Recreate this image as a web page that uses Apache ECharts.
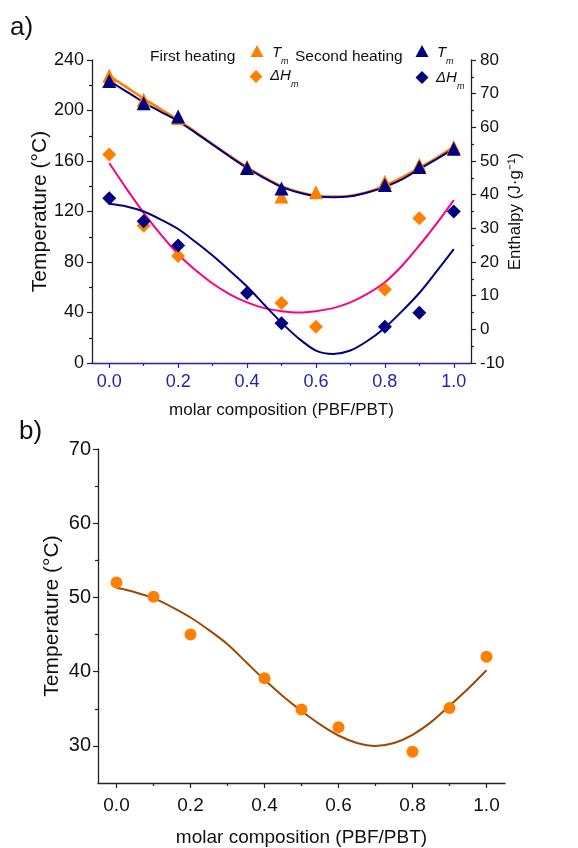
<!DOCTYPE html>
<html><head><meta charset="utf-8">
<script src="https://cdn.jsdelivr.net/npm/echarts@6/dist/echarts.min.js"></script>
<style>html,body{margin:0;padding:0;background:#fff}#c{width:578px;height:848px}</style>
</head><body><div id="c"></div>
<script>
// ---------- data (top chart) ----------
const firstTmX = [0, 0.1, 0.2, 0.4, 0.5, 0.6, 0.8, 0.9, 1.0];
const firstTmY = [227.5, 208.5, 194, 155.5, 131.8, 135.2, 143.5, 157, 171];
const secondTmX = [0, 0.1, 0.2, 0.4, 0.5, 0.8, 0.9, 1.0];
const secondTmY = [223.4, 205.8, 195.3, 154.5, 138.3, 140.9, 155.3, 169.7];
const firstDHX = [0, 0.1, 0.2, 0.5, 0.6, 0.8, 0.9];
const firstDHY = [51.9, 30.8, 21.8, 7.8, 0.8, 11.8, 33.0];
const secondDHX = [0, 0.1, 0.2, 0.4, 0.5, 0.8, 0.9, 1.0];
const secondDHY = [38.9, 32.1, 24.9, 10.8, 1.8, 0.8, 4.9, 35.0];
// fitted curves, every 0.05
const fitX = [0, 0.05, 0.1, 0.15, 0.2, 0.25, 0.3, 0.35, 0.4, 0.45, 0.5, 0.55, 0.6, 0.65, 0.7, 0.75, 0.8, 0.85, 0.9, 0.95, 1.0];
const firstTmFit = [227.5, 218.5, 209.5, 201, 192.5, 183, 173.5, 164, 155, 147, 140, 135.5, 132.5, 131.8, 132.5, 135.5, 140.5, 147, 154.5, 162.5, 171.5];
const secondTmFit = [223.5, 215, 206.5, 199, 191.5, 182.5, 173, 163.5, 154.5, 146.5, 139.5, 135, 132, 131.2, 132, 135, 139.5, 145.5, 153.5, 161.5, 169.7];
const firstDHFit = [49.4, 41.8, 34.6, 28.1, 22.3, 17.6, 13.6, 10.4, 8.0, 6.3, 5.4, 5.0, 5.4, 6.3, 8.0, 10.6, 14.0, 18.9, 24.9, 31.4, 38.4];
const secondDHFit = [37.3, 36.5, 35.0, 32.6, 29.8, 26.0, 21.9, 17.4, 12.7, 7.3, 2.0, -2.7, -6.3, -7.3, -6.3, -3.4, 0.5, 5.4, 10.8, 17.2, 23.8];
// ---------- data (bottom chart) ----------
const botX = [0, 0.1, 0.2, 0.4, 0.5, 0.6, 0.8, 0.9, 1.0];
const botY = [52.0, 50.1, 45.0, 39.1, 34.9, 32.5, 29.2, 35.1, 42.0];
const botFit = [51.3, 50.7, 49.9, 48.7, 47.3, 45.6, 43.7, 41.3, 38.9, 36.7, 34.7, 32.9, 31.4, 30.4, 30.0, 30.4, 31.5, 33.2, 35.4, 37.7, 40.2];
// ---------- tick labels ----------
const xMajor = [0, 0.2, 0.4, 0.6, 0.8, 1.0];
const xMinor = [0.1, 0.3, 0.5, 0.7, 0.9];
const botYMajor = [30, 40, 50, 60, 70];
const botYMinor = [35, 45, 55, 65];

const FONT = "'Liberation Sans', Arial, sans-serif";
const ORANGE = '#FF8000', NAVY = '#000080', PINK = '#FF0080', BROWN = '#A04800', BLUE = '#2323B0';
const pairs = (xs, ys) => xs.map((x, i) => [x, ys[i]]);

function xMain(grid, color, fs, nfs, margin, gap) {
  return {
    gridIndex: grid, type: 'value', min: -0.05, max: 1.05,
    axisLine: {show: true, onZero: false, lineStyle: {color: color, width: 1.3}},
    axisTick: {show: true, customValues: xMajor, length: 5, lineStyle: {color: color, width: 1.2}},
    axisLabel: {show: true, customValues: xMajor, formatter: v => Number(v).toFixed(1),
      color: color === BLUE ? BLUE : '#111', fontSize: fs, fontFamily: FONT, margin: margin},
    splitLine: {show: false},
    name: 'molar composition (PBF/PBT)', nameLocation: 'middle', nameGap: gap, nameMoveOverlap: false,
    nameTextStyle: {fontSize: nfs, fontFamily: FONT, color: '#111'}
  };
}
function xMinorAxis(grid, color) {
  return {
    gridIndex: grid, type: 'value', min: -0.05, max: 1.05, position: 'bottom',
    axisLine: {show: false, onZero: false}, axisLabel: {show: false}, splitLine: {show: false},
    axisTick: {show: true, customValues: xMinor, length: 3, lineStyle: {color: color, width: 1.2}}
  };
}
const yCommon = {
  type: 'value', splitLine: {show: false}, nameMoveOverlap: false,
  axisLine: {show: true, onZero: false, lineStyle: {color: '#222', width: 1.3}},
  axisTick: {show: true, length: 5, lineStyle: {color: '#222', width: 1.2}},
  minorTick: {show: true, splitNumber: 2, length: 3, lineStyle: {color: '#222', width: 1.2}},
  minorSplitLine: {show: false}
};
const mark = (color) => ({color: color, opacity: 1});

const option = {
  animation: false,
  backgroundColor: '#fff',
  grid: [
    {left: 92, right: 107, top: 60, bottom: 485},
    {left: 98, right: 73, top: 449, bottom: 65}
  ],
  xAxis: [
    xMain(0, BLUE, 18, 17, 10, 39),
    xMinorAxis(0, BLUE),
    xMain(1, '#222', 19, 19, 13, 45),
    xMinorAxis(1, '#222')
  ],
  yAxis: [
    Object.assign({}, yCommon, {gridIndex: 0, position: 'left', min: 0, max: 240, interval: 40,
      axisLabel: {color: '#111', fontSize: 18, fontFamily: FONT, margin: 8},
      name: 'Temperature (°C)', nameLocation: 'middle', nameGap: 41, nameRotate: 90,
      nameTextStyle: {fontSize: 21, fontFamily: FONT, color: '#111'}}),
    Object.assign({}, yCommon, {gridIndex: 0, position: 'right', min: -10, max: 80, interval: 10,
      axisLabel: {color: '#111', fontSize: 17, fontFamily: FONT, margin: 9},
      name: 'Enthalpy (J·g⁻¹)', nameLocation: 'middle', nameGap: 36, nameRotate: 90,
      nameTextStyle: {fontSize: 17, fontFamily: FONT, color: '#111'}}),
    Object.assign({}, yCommon, {gridIndex: 1, position: 'left', min: 25, max: 70,
      minorTick: {show: false},
      axisTick: {show: true, customValues: botYMajor, length: 5, lineStyle: {color: '#222', width: 1.2}},
      axisLabel: {customValues: botYMajor, color: '#111', fontSize: 20, fontFamily: FONT, margin: 7},
      name: 'Temperature (°C)', nameLocation: 'middle', nameGap: 35, nameRotate: 90,
      nameTextStyle: {fontSize: 21, fontFamily: FONT, color: '#111'}}),
    {gridIndex: 1, type: 'value', min: 25, max: 70, position: 'left',
      axisLine: {show: false, onZero: false}, axisLabel: {show: false}, splitLine: {show: false},
      axisTick: {show: true, customValues: botYMinor, length: 3, lineStyle: {color: '#222', width: 1.2}}}
  ],
  series: [
    {type: 'line', xAxisIndex: 0, yAxisIndex: 0, data: pairs(fitX, firstTmFit), smooth: 0.3,
      showSymbol: false, lineStyle: {color: ORANGE, width: 2.6}, z: 2},
    {type: 'line', xAxisIndex: 0, yAxisIndex: 0, data: pairs(fitX, secondTmFit), smooth: 0.3,
      showSymbol: false, lineStyle: {color: NAVY, width: 2}, z: 3},
    {type: 'line', xAxisIndex: 0, yAxisIndex: 1, data: pairs(fitX, firstDHFit), smooth: 0.3,
      showSymbol: false, lineStyle: {color: PINK, width: 2}, z: 3},
    {type: 'line', xAxisIndex: 0, yAxisIndex: 1, data: pairs(fitX, secondDHFit), smooth: 0.3,
      showSymbol: false, lineStyle: {color: NAVY, width: 2}, z: 3},
    {type: 'scatter', xAxisIndex: 0, yAxisIndex: 0, data: pairs(firstTmX, firstTmY),
      symbol: 'triangle', symbolSize: 14, itemStyle: mark(ORANGE), z: 5},
    {type: 'scatter', xAxisIndex: 0, yAxisIndex: 0, data: pairs(secondTmX, secondTmY),
      symbol: 'triangle', symbolSize: 14, itemStyle: mark(NAVY), z: 6},
    {type: 'scatter', xAxisIndex: 0, yAxisIndex: 1, data: pairs(firstDHX, firstDHY),
      symbol: 'diamond', symbolSize: 14, itemStyle: mark(ORANGE), z: 5},
    {type: 'scatter', xAxisIndex: 0, yAxisIndex: 1, data: pairs(secondDHX, secondDHY),
      symbol: 'diamond', symbolSize: 14, itemStyle: mark(NAVY), z: 6},
    {type: 'line', xAxisIndex: 2, yAxisIndex: 2, data: pairs(fitX, botFit), smooth: 0.3,
      showSymbol: false, lineStyle: {color: BROWN, width: 2}, z: 3},
    {type: 'scatter', xAxisIndex: 2, yAxisIndex: 2, data: pairs(botX, botY),
      symbol: 'circle', symbolSize: 12, itemStyle: mark(ORANGE), z: 5}
  ],
  graphic: [
    {type: 'text', x: 10, y: 28, style: {text: 'a)', font: '26px ' + FONT, fill: '#111', textVerticalAlign: 'middle'}},
    {type: 'text', x: 19, y: 432, style: {text: 'b)', font: '26px ' + FONT, fill: '#111', textVerticalAlign: 'middle'}},
    {type: 'text', x: 150, y: 57, style: {text: 'First heating', font: '15.5px ' + FONT, fill: '#111', textVerticalAlign: 'middle'}},
    {type: 'text', x: 295, y: 57, style: {text: 'Second heating', font: '15.5px ' + FONT, fill: '#111', textVerticalAlign: 'middle'}},
    {type: 'polygon', shape: {points: [[257, 45], [263.5, 57], [250.5, 57]]}, style: {fill: ORANGE}},
    {type: 'polygon', shape: {points: [[422, 45], [428.5, 57], [415.5, 57]]}, style: {fill: NAVY}},
    {type: 'polygon', shape: {points: [[256, 70], [262.5, 76.5], [256, 83], [249.5, 76.5]]}, style: {fill: ORANGE}},
    {type: 'polygon', shape: {points: [[422, 71], [428.5, 77.5], [422, 84], [415.5, 77.5]]}, style: {fill: NAVY}},
    {type: 'text', x: 272, y: 53, style: {text: 'T', font: 'italic 15px ' + FONT, fill: '#111', textVerticalAlign: 'middle'}},
    {type: 'text', x: 281, y: 61, style: {text: 'm', font: 'italic 9px ' + FONT, fill: '#111', textVerticalAlign: 'middle'}},
    {type: 'text', x: 437, y: 53, style: {text: 'T', font: 'italic 15px ' + FONT, fill: '#111', textVerticalAlign: 'middle'}},
    {type: 'text', x: 446, y: 61, style: {text: 'm', font: 'italic 9px ' + FONT, fill: '#111', textVerticalAlign: 'middle'}},
    {type: 'text', x: 270, y: 76, style: {text: 'ΔH', font: 'italic 15px ' + FONT, fill: '#111', textVerticalAlign: 'middle'}},
    {type: 'text', x: 291, y: 84, style: {text: 'm', font: 'italic 9px ' + FONT, fill: '#111', textVerticalAlign: 'middle'}},
    {type: 'text', x: 436, y: 78, style: {text: 'ΔH', font: 'italic 15px ' + FONT, fill: '#111', textVerticalAlign: 'middle'}},
    {type: 'text', x: 457, y: 86, style: {text: 'm', font: 'italic 9px ' + FONT, fill: '#111', textVerticalAlign: 'middle'}}
  ]
};
const chart = echarts.init(document.getElementById('c'), null, {renderer: 'canvas'});
chart.setOption(option);
</script></body></html>
